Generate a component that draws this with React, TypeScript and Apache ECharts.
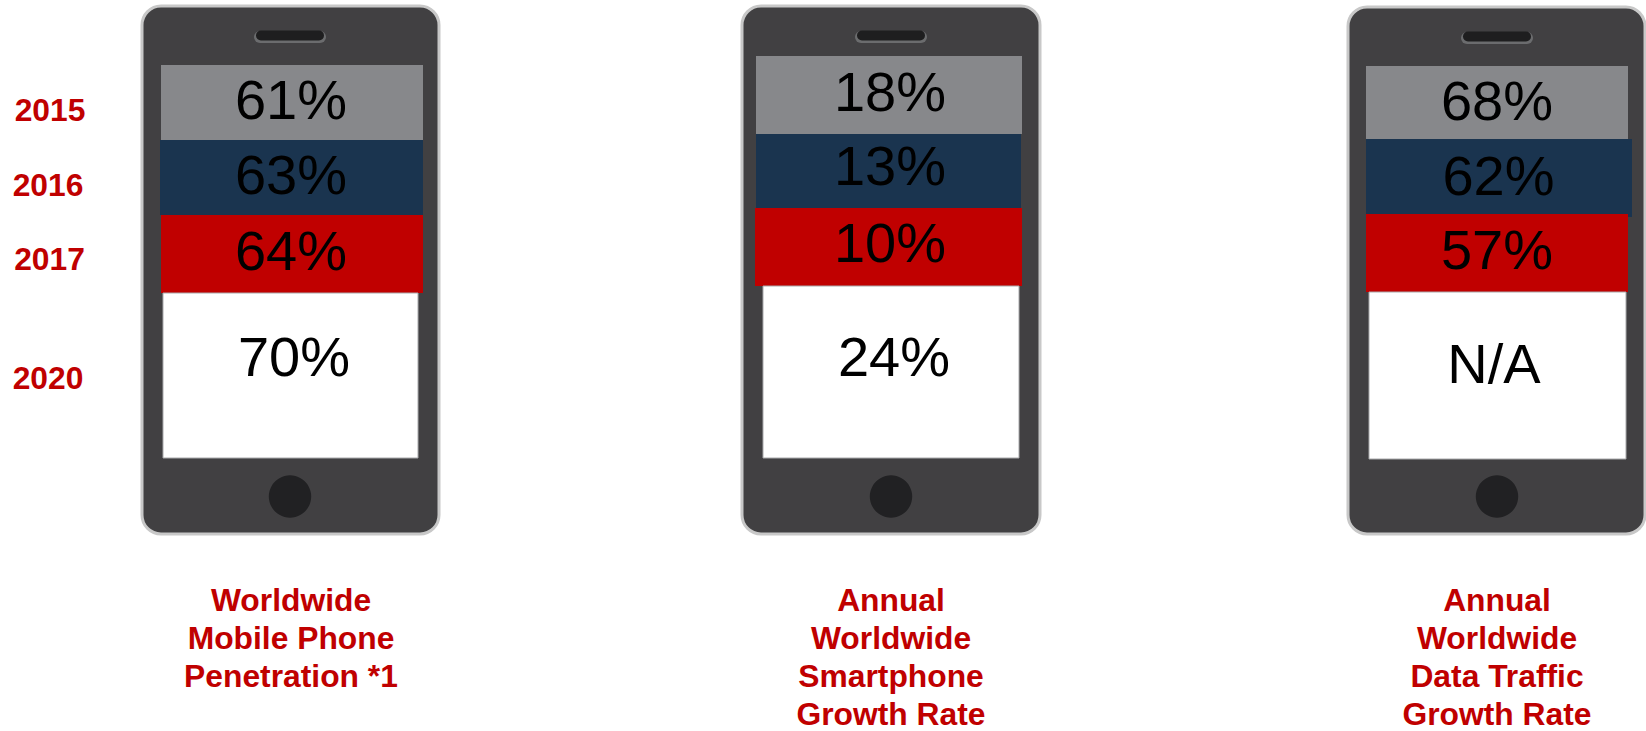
import React, { useEffect, useRef } from "react";
import * as echarts from "echarts";

const WIDTH = 1646;
const HEIGHT = 731;

const years = ["2015", "2016", "2017", "2020"];
const mobilePenetration = [61, 63, 64, 70];
const smartphoneGrowth = [18, 13, 10, 24];
const dataTrafficGrowth = [68, 62, 57, null];
const metricValues = [mobilePenetration, smartphoneGrowth, dataTrafficGrowth];
const metricTitles = [
  "Worldwide\nMobile Phone\nPenetration *1",
  "Annual\nWorldwide\nSmartphone\nGrowth Rate",
  "Annual\nWorldwide\nData Traffic\nGrowth Rate",
];

const bandColors = ["#87888B", "#1A344F", "#C00000", "#FFFFFF"];
const RED_TEXT = "#C00000";
const FONT = '"Liberation Sans", Arial, sans-serif';

// Screen bands for each handset: left, top, right, bottom, label centre x, label centre y.
const bandLayout = [
  [
    [161, 65, 423, 140, 291, 99.5],
    [160, 140, 423, 215, 291, 174.5],
    [161, 215, 423, 293, 291, 250],
    [163, 293, 418, 458, 294, 356],
  ],
  [
    [756, 56, 1022, 134, 890, 91],
    [756, 134, 1021, 208, 890, 165.5],
    [755, 208, 1022, 286, 890, 242.5],
    [763, 286, 1019, 458, 894, 356],
  ],
  [
    [1366, 66, 1628, 139, 1497, 100],
    [1366, 139, 1632, 217, 1498.5, 175.5],
    [1366, 214, 1628, 292, 1497, 249],
    [1369, 292, 1626, 459, 1494, 363.5],
  ],
];

// Handset outline: left, right, top, speaker centre x, home button centre x, title centre x, title top.
const handsets = [
  [142, 439, 6, 290, 290, 291, 580.5],
  [742, 1040, 6, 891, 891, 891, 580.5],
  [1348, 1645, 7, 1497, 1497, 1497, 580.5],
];

const yearLabelSpots = [
  [50, 110],
  [48, 185],
  [49.5, 259],
  [48, 378],
];

const bandData = metricValues.flatMap((values, phone) =>
  values.map((_, year) => [phone, year])
);

function formatValue(value: number | null) {
  return value === null ? "N/A" : `${value}%`;
}

function renderBand(_params: any, api: any) {
  const phone = api.value(0);
  const year = api.value(1);
  const [left, top, right, bottom, labelX, labelY] = bandLayout[phone][year];
  const [x0, y0] = api.coord([left, top]);
  const [x1, y1] = api.coord([right, bottom]);
  const [tx, ty] = api.coord([labelX, labelY]);
  const isWhite = year === 3;
  return {
    type: "group",
    children: [
      {
        type: "rect",
        shape: { x: x0, y: y0, width: x1 - x0, height: y1 - y0 },
        style: {
          fill: bandColors[year],
          stroke: isWhite ? "#A9A9AB" : null,
          lineWidth: isWhite ? 1 : 0,
        },
      },
      {
        type: "text",
        x: tx,
        y: ty,
        style: {
          text: formatValue(metricValues[phone][year]),
          fill: "#000000",
          font: `56px ${FONT}`,
          align: "center",
          verticalAlign: "middle",
        },
      },
    ],
  };
}

function handsetGraphics() {
  return handsets.flatMap(([left, right, top, speakerX, homeX]) => [
    {
      type: "rect",
      shape: { x: left, y: top, width: right - left, height: 534 - top, r: 19 },
      style: { fill: "#414042", stroke: "#C8C8C8", lineWidth: 3 },
    },
    {
      type: "rect",
      shape: { x: speakerX - 36, y: top + 25, width: 72, height: 12, r: 6 },
      style: { fill: "#6B6C6E" },
    },
    {
      type: "rect",
      shape: { x: speakerX - 34, y: top + 24.5, width: 68, height: 10, r: 5 },
      style: { fill: "#1E1E1F" },
    },
    {
      type: "circle",
      shape: { cx: homeX, cy: 496.5, r: 21.2 },
      style: { fill: "#212123" },
    },
  ]);
}

function textGraphics() {
  const yearLabels = years.map((year, i) => ({
    type: "text",
    x: yearLabelSpots[i][0],
    y: yearLabelSpots[i][1],
    style: {
      text: year,
      fill: RED_TEXT,
      font: `bold 31.8px ${FONT}`,
      align: "center",
      verticalAlign: "middle",
    },
  }));
  const titles = metricTitles.map((title, i) => ({
    type: "text",
    x: handsets[i][5],
    y: handsets[i][6],
    style: {
      text: title,
      fill: RED_TEXT,
      font: `bold 31.8px ${FONT}`,
      lineHeight: 38.2,
      align: "center",
      verticalAlign: "top",
    },
  }));
  return [...yearLabels, ...titles];
}

export default function App() {
  const ref = useRef<HTMLDivElement>(null);

  useEffect(() => {
    if (!ref.current) return;
    const chart = echarts.init(ref.current, undefined, { renderer: "svg" });
    chart.setOption({
      animation: false,
      backgroundColor: "#FFFFFF",
      grid: { left: 0, right: 0, top: 0, bottom: 0 },
      xAxis: { type: "value", min: 0, max: WIDTH, show: false },
      yAxis: { type: "value", min: 0, max: HEIGHT, inverse: true, show: false },
      graphic: { elements: [...handsetGraphics(), ...textGraphics()] },
      series: [
        {
          type: "custom",
          coordinateSystem: "cartesian2d",
          clip: false,
          data: bandData,
          renderItem: renderBand,
        },
      ],
    });
    return () => chart.dispose();
  }, []);

  return (
    <div
      ref={ref}
      style={{ position: "absolute", left: 0, top: 0, width: WIDTH, height: HEIGHT }}
    />
  );
}
